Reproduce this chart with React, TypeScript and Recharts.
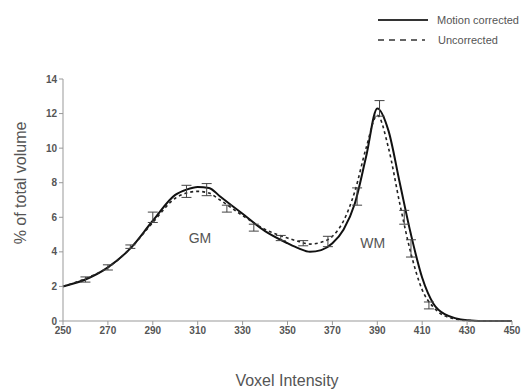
import React from "react";
import {
  ComposedChart,
  Line,
  Scatter,
  ErrorBar,
  XAxis,
  YAxis,
  ReferenceDot,
} from "recharts";

// voxel intensity sample points
const intensity = [
  250, 260, 270, 280, 290, 300, 305, 310, 315, 320, 330, 340, 350, 355, 360,
  365, 370, 375, 380, 385, 390, 395, 400, 405, 410, 415, 420, 430, 440, 450,
];
const motionCorrected = [
  2.0, 2.4, 3.1, 4.2, 5.8, 7.3, 7.6, 7.75, 7.7, 7.2, 6.2, 5.2, 4.5, 4.2, 4.0,
  4.1, 4.5, 5.3, 6.8, 9.5, 12.3, 11.0, 8.0, 5.0, 2.5, 1.0, 0.4, 0.05, 0, 0,
];
const uncorrected = [
  2.0, 2.45, 3.1, 4.2, 5.7, 7.1, 7.4, 7.5, 7.4, 7.0, 6.1, 5.3, 4.8, 4.6, 4.45,
  4.55, 4.9, 5.8, 7.5, 10.0, 11.9, 10.0, 6.8, 3.9, 1.8, 0.8, 0.3, 0.03, 0, 0,
];

// points carrying error bars
const errX = [260, 270, 280, 290, 305, 314, 323, 335, 347, 357, 368, 381, 391, 402, 405, 413];
const errY = [2.4, 3.1, 4.3, 6.0, 7.5, 7.6, 6.5, 5.4, 4.8, 4.5, 4.6, 7.2, 12.3, 6.0, 4.2, 0.9];
const errSize = [0.15, 0.15, 0.1, 0.3, 0.35, 0.35, 0.2, 0.2, 0.15, 0.15, 0.3, 0.5, 0.45, 0.4, 0.5, 0.2];

const xTicks = [250, 270, 290, 310, 330, 350, 370, 390, 410, 430, 450];
const yTicks = [0, 2, 4, 6, 8, 10, 12, 14];

const lineData = intensity.map((x, i) => ({
  x,
  corrected: motionCorrected[i],
  uncorrected: uncorrected[i],
}));
const errData = errX.map((x, i) => ({ x, y: errY[i], err: errSize[i] }));

const sans = "'Liberation Sans', Arial, sans-serif";
const tickStyle = {
  fontSize: 10,
  fontWeight: 700,
  fill: "#555",
  fontFamily: "'Liberation Sans Narrow', 'Arial Narrow', 'Liberation Sans', sans-serif",
};

const LegendBox = () => (
  <svg width={150} height={50} style={{ position: "absolute", left: 375, top: 0, overflow: "visible" }}>
    <line x1={3} y1={20} x2={53} y2={20} stroke="#333" strokeWidth={2} />
    <text x={62} y={24} fontSize={11} fill="#555" fontFamily={sans}>
      Motion corrected
    </text>
    <line x1={3} y1={40} x2={50} y2={40} stroke="#333" strokeWidth={1.6} strokeDasharray="6 5" />
    <text x={63} y={44} fontSize={11} fill="#555" fontFamily={sans}>
      Uncorrected
    </text>
  </svg>
);

export default function App() {
  return (
    <div style={{ position: "absolute", left: 0, top: 0, width: 525, height: 389, background: "#fff" }}>
      <ComposedChart
        width={525}
        height={389}
        data={lineData}
        margin={{ top: 79, right: 13, left: 33, bottom: 38 }}
      >
        <XAxis
          dataKey="x"
          type="number"
          domain={[250, 450]}
          ticks={xTicks}
          tick={tickStyle}
          tickSize={4}
          height={30}
          stroke="#999"
          label={{
            content: () => (
              <text x={287} y={386} textAnchor="middle" fontSize={16} fill="#555" fontFamily={sans}>
                Voxel Intensity
              </text>
            ),
          }}
        />
        <YAxis
          type="number"
          domain={[0, 14]}
          ticks={yTicks}
          tick={tickStyle}
          tickSize={4}
          width={30}
          stroke="#999"
          label={{
            content: () => (
              <text
                x={26}
                y={183}
                transform="rotate(-90 26 183)"
                textAnchor="middle"
                fontSize={16}
                fill="#555"
                fontFamily={sans}
              >
                % of total volume
              </text>
            ),
          }}
        />
        <Line
          type="monotone"
          dataKey="corrected"
          stroke="#111"
          strokeWidth={2}
          dot={false}
          isAnimationActive={false}
        />
        <Line
          type="monotone"
          dataKey="uncorrected"
          stroke="#222"
          strokeWidth={1.6}
          strokeDasharray="3 3"
          dot={false}
          isAnimationActive={false}
        />
        <Scatter data={errData} dataKey="y" fill="#333" shape={() => <g />} isAnimationActive={false}>
          <ErrorBar dataKey="err" direction="y" width={5} stroke="#444" strokeWidth={1} />
        </Scatter>
        <ReferenceDot
          x={311}
          y={4.8}
          r={0}
          stroke="none"
          label={{ value: "GM", fontSize: 14, fill: "#555", fontFamily: sans }}
        />
        <ReferenceDot
          x={388}
          y={4.5}
          r={0}
          stroke="none"
          label={{ value: "WM", fontSize: 14, fill: "#555", fontFamily: sans }}
        />
      </ComposedChart>
      <LegendBox />
    </div>
  );
}
